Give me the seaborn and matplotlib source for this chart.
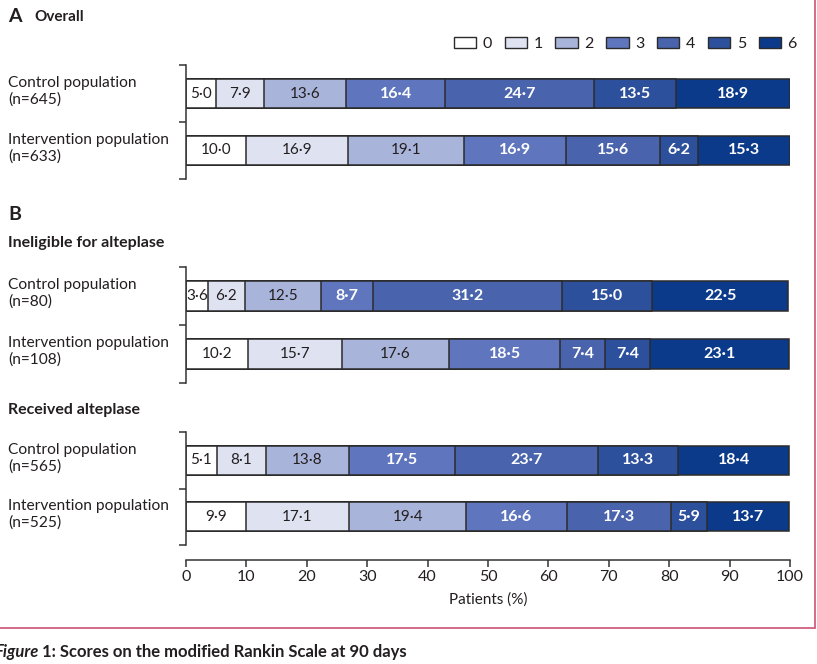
import numpy as np
import pandas as pd
import matplotlib.pyplot as plt
import matplotlib.transforms as mtransforms
from matplotlib.patches import Patch
from matplotlib.lines import Line2D
import seaborn as sns

# mRS scores and their colours
scores = ['0', '1', '2', '3', '4', '5', '6']
score_colors = ['#ffffff', '#dfe3f1', '#a9b4da', '#5f76be', '#4963ac', '#2d509d', '#0c3a8b']
text_colors = ['#231f20', '#231f20', '#231f20', 'white', 'white', 'white', 'white']

groups = ['Control population', 'Intervention population']

overall_n = [645, 633]
overall_control = [5.0, 7.9, 13.6, 16.4, 24.7, 13.5, 18.9]
overall_intervention = [10.0, 16.9, 19.1, 16.9, 15.6, 6.2, 15.3]

ineligible_n = [80, 108]
ineligible_control = [3.6, 6.2, 12.5, 8.7, 31.2, 15.0, 22.5]
ineligible_intervention = [10.2, 15.7, 17.6, 18.5, 7.4, 7.4, 23.1]

received_n = [565, 525]
received_control = [5.1, 8.1, 13.8, 17.5, 23.7, 13.3, 18.4]
received_intervention = [9.9, 17.1, 19.4, 16.6, 17.3, 5.9, 13.7]

x_ticks = [0, 10, 20, 30, 40, 50, 60, 70, 80, 90, 100]

panels = [
    (overall_n, overall_control, overall_intervention),
    (ineligible_n, ineligible_control, ineligible_intervention),
    (received_n, received_control, received_intervention),
]

sns.set_style('ticks')
plt.rcParams['font.family'] = ['Lato', 'DejaVu Sans']
dark = '#231f20'
pink = '#d0607f'

fig = plt.figure(figsize=(8.17, 6.64), dpi=100)
W, H = 817, 664

def fig_box(top_px, bottom_px):
    return [186 / W, 1 - bottom_px / H, (790 - 186) / W, (bottom_px - top_px) / H]

boxes = [fig_box(65, 179), fig_box(267, 383), fig_box(432, 545)]
axes = []

for (ns, ctrl, intv), box in zip(panels, boxes):
    ax = fig.add_axes(box)
    axes.append(ax)
    rows = []
    for g, vals in zip(groups, [ctrl, intv]):
        cum = np.cumsum(vals)
        for s, v, c in zip(scores, vals, cum):
            rows.append({'group': g, 'score': s, 'pct': v, 'cum': c})
    df = pd.DataFrame(rows)

    # stack by overlaying cumulative bars, widest first
    for i in reversed(range(len(scores))):
        sub = df[df['score'] == scores[i]]
        sns.barplot(data=sub, x='cum', y='group', order=groups, orient='h',
                    color=score_colors[i], saturation=1, width=0.52,
                    edgecolor='#2b2b2b', linewidth=1.1, errorbar=None, ax=ax)

    for _, r in df.iterrows():
        i = scores.index(r['score'])
        yi = groups.index(r['group'])
        ax.text(r['cum'] - r['pct'] / 2, yi, f"{r['pct']:.1f}".replace('.', '\u00b7'),
                ha='center', va='center', fontsize=11.5 if i >= 3 else 11, color=text_colors[i],
                fontweight='bold' if i >= 3 else 'normal')

    ax.set_xlim(0, 100)
    ax.set_ylim(1.5, -0.5)
    ax.set_yticks([-0.5, 0.5, 1.5])
    ax.set_yticklabels([])
    ax.tick_params(axis='y', length=5, width=1.1, color='#333333')
    ax.set_xlabel('')
    ax.set_ylabel('')
    for side in ['top', 'right']:
        ax.spines[side].set_visible(False)
    ax.spines['left'].set_linewidth(1.1)
    ax.spines['left'].set_color('#333333')

    trans = mtransforms.blended_transform_factory(fig.transFigure, ax.transData)
    for yi, (g, n) in enumerate(zip(groups, ns)):
        ax.text(8 / W, yi - 0.04, f"{g}\n(n={n})", transform=trans, ha='left', va='center',
                fontsize=11.2, color=dark, linespacing=1.2)

for ax in axes[:2]:
    ax.spines['bottom'].set_visible(False)
    ax.set_xticks([])

axb = axes[2]
axb.spines['bottom'].set_position(('outward', 11))
axb.spines['bottom'].set_linewidth(1.1)
axb.spines['bottom'].set_color('#333333')
axb.set_xticks(x_ticks)
axb.set_xticklabels([str(t) for t in x_ticks])
axb.tick_params(axis='x', length=5, width=1.1, color='#333333', labelsize=11.5, labelcolor=dark, pad=2)
axb.set_xlabel('Patients (%)', fontsize=11, color=dark, labelpad=6)

# headings
fig.text(8 / W, 1 - 17 / H, 'A', fontsize=14, fontweight='bold', color=dark, va='center')
fig.text(34 / W, 1 - 17 / H, 'Overall', fontsize=11, fontweight='bold', color=dark, va='center')
fig.text(8 / W, 1 - 215 / H, 'B', fontsize=14, fontweight='bold', color=dark, va='center')
fig.text(8 / W, 1 - 243 / H, 'Ineligible for alteplase', fontsize=11.5, fontweight='bold', color=dark, va='center')
fig.text(8 / W, 1 - 410 / H, 'Received alteplase', fontsize=11.5, fontweight='bold', color=dark, va='center')

# legend
handles = [Patch(facecolor=c, edgecolor='#2b2b2b', linewidth=1.0) for c in score_colors]
fig.legend(handles, scores, loc='center right', bbox_to_anchor=(808 / W, 1 - 44 / H), ncol=7,
           frameon=False, handlelength=1.4, handleheight=0.7, handletextpad=0.4,
           columnspacing=0.8, fontsize=11.5, labelcolor=dark, borderpad=0.2)

# frame lines and caption
fig.add_artist(Line2D([0, 815 / W], [1 - 628 / H] * 2, transform=fig.transFigure, color=pink, lw=1.3))
fig.add_artist(Line2D([815 / W] * 2, [1, 1 - 628 / H], transform=fig.transFigure, color=pink, lw=1.3))
t1 = fig.text(-6 / W, 1 - 652 / H, 'Figure', fontsize=12, fontweight='bold', fontstyle='italic',
              color=dark, va='center')
axb.annotate(' 1: Scores on the modified Rankin Scale at 90 days', xy=(1, 0.5), xycoords=t1,
             ha='left', va='center', fontsize=12, fontweight='bold', color=dark,
             annotation_clip=False)

fig.savefig('out.png', dpi=100)
